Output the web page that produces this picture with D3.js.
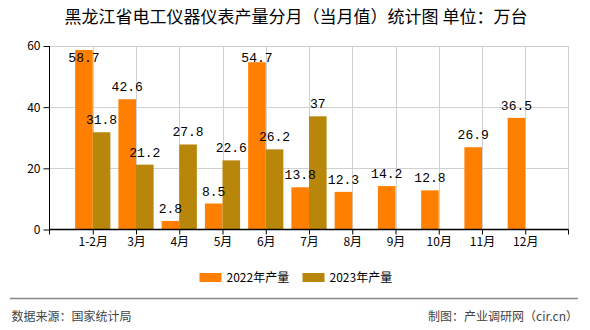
<!DOCTYPE html>
<html>
<head>
<meta charset="utf-8">
<script src="https://cdn.jsdelivr.net/npm/d3@7/dist/d3.min.js"></script>
<style>
  html, body { margin: 0; padding: 0; background: #fff; }
  svg { display: block; }
</style>
</head>
<body>
<svg id="chart" width="590" height="330"></svg>
<script>
// Monthly output, 10k units
const months = ["1-2月", "3月", "4月", "5月", "6月", "7月", "8月", "9月", "10月", "11月", "12月"];
const output2022 = [58.7, 42.6, 2.8, 8.5, 54.7, 13.8, 12.3, 14.2, 12.8, 26.9, 36.5];
const output2023 = [31.8, 21.2, 27.8, 22.6, 26.2, 37];
const yTicks = [0, 20, 40, 60];
const seriesNames = ["2022年产量", "2023年产量"];
const seriesColors = ["#FF8000", "#B8860B"];

const svg = d3.select("#chart");
const cjk = "'Noto Sans CJK SC', 'Noto Sans', sans-serif";
const mono = "'Liberation Mono', 'DejaVu Sans Mono', monospace";

const L = 49.5, R = 568.5, T = 46, B = 229.5;
const barW = 17.6;

const x = d3.scalePoint().domain(months).range([L, R]).padding(1);
const step = x.step();
const y = d3.scaleLinear().domain([0, 60]).range([B, T]);

// title
svg.append("text")
  .attr("x", 296).attr("y", 23)
  .attr("text-anchor", "middle")
  .style("font-family", cjk).style("font-size", "17px").attr("fill", "#000")
  .text("黑龙江省电工仪器仪表产量分月（当月值）统计图 单位：万台");

// grid
const grid = svg.append("g").attr("stroke", "#d0d0d0").attr("stroke-width", 1);
yTicks.filter(d => d > 0).forEach(d => {
  grid.append("line").attr("x1", L).attr("x2", R)
    .attr("y1", Math.round(y(d)) + 0.5).attr("y2", Math.round(y(d)) + 0.5);
});
months.forEach(m => {
  const gx = Math.round(x(m)) + 0.5;
  grid.append("line").attr("x1", gx).attr("x2", gx).attr("y1", T).attr("y2", B);
});
grid.append("line").attr("x1", R).attr("x2", R).attr("y1", T).attr("y2", B);

// bars
const series = [output2022, output2023];
series.forEach((vals, si) => {
  svg.append("g").selectAll("rect").data(vals).join("rect")
    .attr("x", (d, i) => x(months[i]) + (si === 0 ? -barW : 0))
    .attr("y", d => y(d))
    .attr("width", barW)
    .attr("height", d => B - y(d))
    .attr("fill", seriesColors[si]);
});

// value labels
series.forEach((vals, si) => {
  svg.append("g").selectAll("text").data(vals).join("text")
    .attr("x", (d, i) => x(months[i]) + (si === 0 ? -barW / 2 : barW / 2))
    .attr("y", d => Math.max(y(d) - 12.5, T + 11) + 4.5)
    .attr("text-anchor", "middle")
    .style("font-family", mono).style("font-size", "13px").attr("fill", "#000")
    .text(d => d);
});

// y axis
const yAxis = d3.axisLeft(y).tickValues(yTicks).tickSize(6).tickPadding(3).tickFormat(d3.format("d"));
const gy = svg.append("g").attr("transform", `translate(${L},0)`).call(yAxis);
gy.select(".domain").attr("stroke", "#000").attr("d", `M0,${T}V${B}`);
gy.selectAll(".tick line").attr("stroke", "#000");
gy.selectAll("text").style("font-family", cjk).style("font-size", "12px").attr("fill", "#000");

// x axis
const xAxis = d3.axisBottom(x).tickSize(5).tickPadding(3);
const gx = svg.append("g").attr("transform", `translate(0,${B})`).call(xAxis);
gx.select(".domain").attr("stroke", "#000").attr("stroke-width", 1.5).attr("d", `M${L},0H${R}`);
gx.selectAll(".tick line").attr("stroke", "#000");
gx.selectAll("text").style("font-family", cjk).style("font-size", "12px").attr("fill", "#000");
[0, months.length + 1].forEach(k => {
  gx.append("line").attr("x1", L + k * step).attr("x2", L + k * step)
    .attr("y1", 0).attr("y2", 5).attr("stroke", "#000");
});

// legend
const legendX = [199.5, 302.5];
seriesNames.forEach((name, i) => {
  svg.append("rect").attr("x", legendX[i]).attr("y", 273).attr("width", 22).attr("height", 9)
    .attr("fill", seriesColors[i]);
  svg.append("text").attr("x", legendX[i] + 27).attr("y", 282)
    .style("font-family", cjk).style("font-size", "12px").attr("fill", "#000")
    .text(name);
});

// footer
svg.append("line").attr("x1", 10).attr("x2", 578).attr("y1", 298.5).attr("y2", 298.5)
  .attr("stroke", "#888").attr("stroke-width", 1.5);
svg.append("text").attr("x", 11.5).attr("y", 320.5)
  .style("font-family", cjk).style("font-size", "12px").attr("fill", "#444")
  .text("数据来源：国家统计局");
svg.append("text").attr("x", 578).attr("y", 320.5).attr("text-anchor", "end")
  .style("font-family", cjk).style("font-size", "12px").attr("fill", "#444")
  .text("制图：产业调研网（cir.cn）");
</script>
</body>
</html>
